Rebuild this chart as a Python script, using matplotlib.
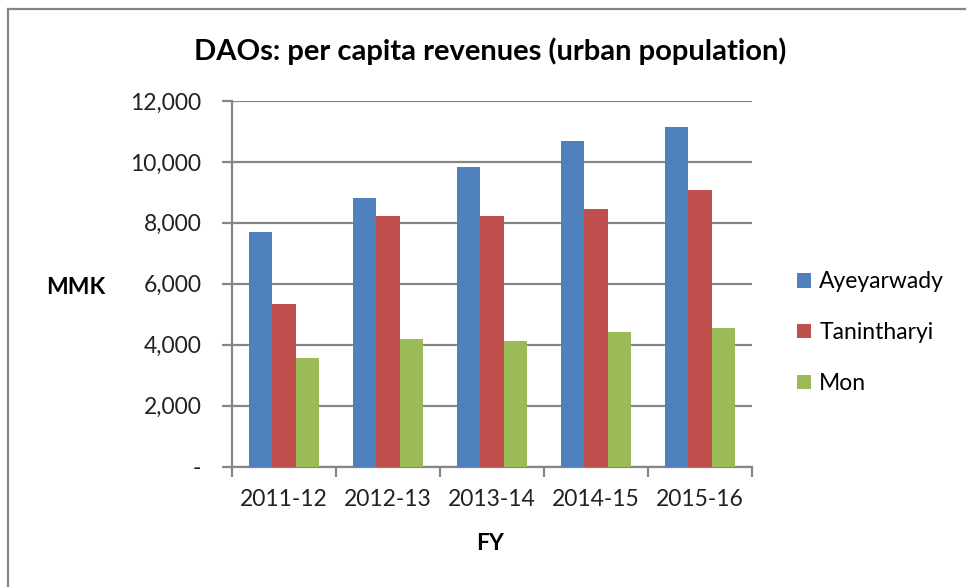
import matplotlib
matplotlib.use("Agg")
import matplotlib.pyplot as plt
import numpy as np
from matplotlib.lines import Line2D
from matplotlib.ticker import FuncFormatter, FixedLocator

plt.rcParams["font.family"] = ["Lato", "DejaVu Sans"]

years = ["2011-12", "2012-13", "2013-14", "2014-15", "2015-16"]
ayeyarwady = [7690, 8810, 9840, 10680, 11140]
tanintharyi = [5350, 8240, 8210, 8470, 9070]
mon = [3570, 4200, 4110, 4420, 4540]
series_names = ["Ayeyarwady", "Tanintharyi", "Mon"]
colors = ["#4F81BD", "#C0504D", "#9BBB59"]
grid_c = "#868686"
fs = 16.5

W, H = 966, 587
fig = plt.figure(figsize=(W / 100, H / 100), dpi=100)
ax = fig.add_axes([232 / W, 1 - 466.5 / H, 520 / W, 365.5 / H])

x = np.arange(len(years)) + 0.5
bw = 0.226
for i, (vals, name) in enumerate(zip([ayeyarwady, tanintharyi, mon], series_names)):
    ax.bar(x + (i - 1) * bw, vals, width=bw, color=colors[i], label=name, zorder=3)

ax.set_xlim(0, len(years))
ax.set_ylim(0, 12000)
ax.set_yticks(np.arange(0, 12001, 2000))
ax.yaxis.set_major_formatter(FuncFormatter(lambda v, p: "-" if v == 0 else f"{v:,.0f}"))
ax.grid(axis="y", color=grid_c, lw=1.6, zorder=0)

# categories sit between boundary ticks
ax.xaxis.set_major_locator(FixedLocator(np.arange(len(years) + 1)))
ax.xaxis.set_minor_locator(FixedLocator(x))
ax.set_xticklabels([], minor=False)
ax.set_xticklabels(years, minor=True)
ax.tick_params(axis="x", which="major", length=7, width=1.6, color=grid_c)
ax.tick_params(axis="x", which="minor", length=0, pad=16, labelsize=fs, labelcolor="#222222")
ax.tick_params(axis="y", length=7, width=1.6, color=grid_c, pad=15, labelsize=fs,
               labelcolor="#222222")

for s in ["top", "right"]:
    ax.spines[s].set_visible(False)
for s in ["left", "bottom"]:
    ax.spines[s].set_color(grid_c)
    ax.spines[s].set_linewidth(1.6)

fig.text(490 / W, 1 - 51 / H, "DAOs: per capita revenues (urban population)",
         ha="center", va="center", fontsize=21, fontweight="bold")
fig.text(76 / W, 1 - 287 / H, "MMK", ha="center", va="center", fontsize=fs,
         fontweight="bold")
fig.text(490 / W, 1 - 543 / H, "FY", ha="center", va="center", fontsize=fs,
         fontweight="bold")

ax.legend(loc="upper left", bbox_to_anchor=(786 / W, 1 - 260 / H),
          bbox_transform=fig.transFigure, frameon=False, fontsize=fs,
          handlelength=0.6, handleheight=0.6, handletextpad=0.35, labelspacing=1.3,
          borderpad=0)

# chart frame (left and top edges visible)
fig.add_artist(Line2D([8 / W, 8 / W], [0, 1 - 9 / H], color=grid_c, lw=1.6,
                      transform=fig.transFigure))
fig.add_artist(Line2D([8 / W, 1], [1 - 9 / H, 1 - 9 / H], color=grid_c, lw=1.6,
                      transform=fig.transFigure))

fig.savefig("out.png", dpi=100)
